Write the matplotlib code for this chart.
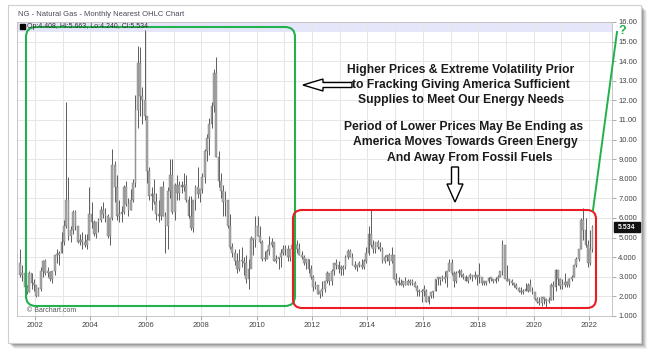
import matplotlib.pyplot as plt
import numpy as np
import pandas as pd
from matplotlib.patches import FancyBboxPatch, Rectangle, Polygon

plt.rcParams['font.family'] = ['Liberation Sans', 'DejaVu Sans']

# NG nearest futures, monthly bars Jun 2001 .. Feb 2022
highs = [
    4.4, 3.6, 3.4, 2.6, 3.3, 3.2, 2.9,                                   # 2001
    2.6, 2.5, 3.5, 3.85, 3.9, 3.5, 3.3, 3.3, 4.1, 4.4, 4.3, 5.3,         # 2002
    5.9, 11.9, 8.1, 5.6, 6.4, 6.4, 5.6, 5.2, 5.3, 5.2, 5.2, 7.6,         # 2003
    6.8, 5.9, 5.8, 6.0, 6.6, 6.8, 6.5, 6.2, 6.0, 9.5, 8.9, 8.2,          # 2004
    6.9, 6.6, 7.7, 7.9, 7.0, 7.5, 8.0, 12.3, 14.8, 14.7, 12.7, 15.6,     # 2005
    11.0, 8.6, 7.6, 8.0, 7.3, 6.9, 7.6, 7.9, 6.3, 7.6, 9.0, 9.0,         # 2006
    7.8, 8.2, 7.9, 7.9, 8.3, 8.2, 7.1, 7.1, 6.9, 7.7, 8.6, 7.5,          # 2007
    8.3, 9.5, 10.3, 11.1, 11.9, 13.6, 14.2, 9.4, 8.3, 7.7, 7.4, 6.9,     # 2008
    6.2, 4.7, 4.4, 4.2, 4.4, 4.5, 4.0, 4.1, 3.9, 5.1, 5.0, 6.1,          # 2009
    6.1, 5.6, 4.9, 4.3, 4.4, 5.1, 5.0, 4.8, 4.1, 4.0, 4.4, 4.6,          # 2010
    4.6, 4.6, 4.4, 4.8, 4.8, 4.9, 4.7, 4.3, 4.1, 3.9, 3.9, 3.6,          # 2011
    3.1, 2.8, 2.5, 2.3, 2.8, 2.8, 3.3, 3.2, 3.4, 3.7, 3.9, 3.8,          # 2012
    3.6, 3.6, 4.1, 4.4, 4.4, 4.2, 3.8, 3.6, 3.8, 3.9, 3.9, 4.5,          # 2013
    5.6, 6.4, 4.9, 4.8, 4.9, 4.8, 4.5, 4.1, 4.1, 4.2, 4.5, 4.1,          # 2014
    3.2, 3.0, 2.9, 2.8, 3.0, 2.9, 2.9, 2.9, 2.8, 2.6, 2.4, 2.4,          # 2015
    2.6, 2.4, 2.0, 2.2, 2.3, 2.9, 3.0, 2.9, 3.1, 3.3, 3.3, 3.9,          # 2016
    3.9, 3.3, 3.3, 3.4, 3.4, 3.2, 3.1, 3.0, 3.2, 3.1, 3.3, 3.1,          # 2017
    3.7, 3.0, 2.8, 2.8, 3.0, 3.0, 2.9, 3.0, 3.1, 3.3, 4.9, 4.6,          # 2018
    3.6, 2.9, 2.9, 2.7, 2.7, 2.5, 2.5, 2.4, 2.7, 2.7, 2.9, 2.5,          # 2019
    2.2, 1.95, 1.95, 1.95, 1.95, 1.9, 1.95, 2.7, 2.8, 3.4, 3.35, 2.95,   # 2020
    2.9, 3.2, 2.8, 2.95, 3.1, 3.6, 4.0, 4.4, 6.0, 6.5, 6.0, 4.9,         # 2021
    5.4, 5.663,                                                          # 2022
]
lows = [
    3.0, 2.8, 2.4, 2.1, 2.2, 2.4, 2.3,
    1.97, 2.0, 2.3, 3.0, 3.1, 3.0, 2.8, 2.7, 3.1, 3.7, 3.6, 4.2,
    4.6, 5.5, 4.9, 4.8, 5.2, 5.4, 4.7, 4.6, 4.4, 4.5, 4.4, 4.9,
    5.5, 5.1, 5.0, 5.3, 5.8, 6.0, 5.8, 5.0, 4.6, 5.9, 6.8, 5.9,
    5.8, 5.8, 6.2, 6.6, 6.1, 6.4, 6.8, 7.6, 10.6, 11.2, 10.8, 11.0,
    7.8, 6.9, 6.4, 6.7, 5.9, 5.8, 5.9, 6.1, 4.2, 4.4, 7.0, 6.2,
    5.9, 6.9, 6.9, 7.3, 7.4, 6.8, 6.0, 5.4, 5.3, 6.4, 7.0, 6.8,
    7.3, 7.8, 8.9, 9.2, 10.6, 11.4, 9.1, 7.6, 7.0, 6.1, 6.1, 5.5,
    4.4, 4.0, 3.6, 3.2, 3.3, 3.5, 3.1, 2.7, 2.4, 3.5, 4.1, 4.5,
    5.1, 4.7, 3.8, 3.8, 3.9, 4.1, 4.5, 3.8, 3.7, 3.4, 3.5, 4.1,
    4.1, 3.8, 3.8, 4.2, 4.0, 4.2, 4.1, 3.9, 3.6, 3.4, 3.2, 2.9,
    2.3, 2.4, 2.1, 1.9, 2.0, 2.2, 2.7, 2.6, 2.6, 3.1, 3.4, 3.2,
    3.1, 3.1, 3.4, 3.9, 4.0, 3.6, 3.4, 3.3, 3.5, 3.4, 3.4, 3.7,
    4.1, 4.5, 4.2, 4.2, 4.4, 4.3, 3.7, 3.7, 3.8, 3.6, 3.7, 2.9,
    2.6, 2.6, 2.6, 2.5, 2.6, 2.6, 2.6, 2.6, 2.5, 2.0, 2.0, 1.7,
    2.0, 1.7, 1.6, 1.9, 1.9, 2.3, 2.6, 2.6, 2.8, 2.7, 2.5, 3.3,
    3.1, 2.5, 2.7, 3.0, 3.0, 2.9, 2.8, 2.7, 2.9, 2.8, 2.9, 2.6,
    2.7, 2.6, 2.6, 2.6, 2.7, 2.8, 2.7, 2.7, 2.8, 3.0, 3.1, 3.0,
    2.8, 2.6, 2.6, 2.5, 2.4, 2.2, 2.1, 2.1, 2.3, 2.2, 2.3, 2.1,
    1.8, 1.65, 1.55, 1.5, 1.6, 1.45, 1.65, 1.8, 1.8, 2.3, 2.6, 2.4,
    2.4, 2.5, 2.5, 2.5, 2.8, 3.0, 3.5, 3.8, 4.4, 4.9, 4.5, 3.5,
    3.6, 4.24,
]
closes = [
    3.1, 3.2, 2.5, 2.2, 3.2, 2.7, 2.6,
    2.0, 2.4, 3.3, 3.8, 3.2, 3.25, 2.9, 3.3, 4.1, 4.1, 4.2, 4.8,
    5.6, 6.9, 5.1, 5.4, 6.3, 5.6, 4.8, 4.8, 4.8, 4.6, 4.9, 6.2,
    5.8, 5.2, 5.8, 5.9, 6.4, 6.2, 6.1, 5.1, 6.0, 8.7, 7.6, 6.1,
    6.2, 6.3, 7.6, 6.7, 6.4, 6.9, 7.8, 11.5, 13.9, 12.2, 12.0, 11.2,
    8.4, 7.1, 7.2, 6.8, 6.2, 6.1, 7.6, 6.1, 5.6, 7.4, 8.2, 6.3,
    7.7, 7.3, 7.7, 7.6, 7.7, 6.9, 6.1, 5.5, 6.9, 7.6, 7.2, 7.5,
    8.1, 9.4, 10.1, 10.8, 11.7, 13.4, 9.1, 7.9, 7.4, 6.8, 6.9, 5.6,
    4.5, 4.2, 3.8, 3.4, 3.8, 3.8, 3.7, 2.9, 3.4, 5.0, 4.9, 5.6,
    5.1, 4.8, 3.9, 3.9, 4.3, 4.6, 4.8, 3.8, 3.9, 4.0, 4.2, 4.4,
    4.4, 4.0, 4.4, 4.6, 4.6, 4.4, 4.1, 4.0, 3.7, 3.9, 3.4, 3.0,
    2.5, 2.6, 2.1, 2.3, 2.4, 2.8, 3.2, 2.8, 3.3, 3.7, 3.6, 3.4,
    3.4, 3.5, 4.0, 4.3, 4.0, 3.6, 3.5, 3.6, 3.6, 3.5, 3.8, 4.2,
    5.2, 4.6, 4.4, 4.8, 4.5, 4.4, 3.8, 4.0, 4.1, 3.8, 4.1, 2.9,
    2.7, 2.7, 2.6, 2.8, 2.6, 2.8, 2.7, 2.7, 2.5, 2.3, 2.2, 2.3,
    2.3, 1.7, 2.0, 2.2, 2.3, 2.9, 2.9, 2.9, 2.9, 3.0, 3.3, 3.7,
    3.2, 2.8, 3.2, 3.3, 3.1, 3.0, 2.8, 3.0, 3.0, 3.0, 3.0, 3.0,
    3.0, 2.7, 2.7, 2.8, 2.95, 2.9, 2.8, 2.9, 3.0, 3.3, 4.6, 2.9,
    2.8, 2.8, 2.7, 2.6, 2.45, 2.3, 2.2, 2.3, 2.3, 2.6, 2.3, 2.2,
    1.85, 1.7, 1.65, 1.95, 1.85, 1.75, 1.8, 2.6, 2.5, 3.35, 2.9, 2.55,
    2.6, 2.75, 2.6, 2.9, 3.0, 3.6, 3.9, 4.4, 5.9, 5.4, 4.6, 3.7,
    4.41, 5.534,
]
first_open = 3.7
start_month = '2001-06-01'

year_ticks = list(range(2002, 2023, 2))
price_ticks = list(range(1, 17))
price_labels = ['1.000', '2.000', '3.000', '4.000', '5.000', '6.000', '7.000', '8.000',
                '9.000', '10.00', '11.00', '12.00', '13.00', '14.00', '15.00', '16.00']
last_price = 5.534

chart_title = 'NG - Natural Gas - Monthly Nearest OHLC Chart'
legend_text = 'Op:4.408, Hi:5.663, Lo:4.240, Cl:5.534'
note_top = ['Higher Prices & Extreme Volatility Prior',
            'to Fracking Giving America Sufficient',
            'Supplies to Meet Our Energy Needs']
note_bottom = ['Period of Lower Prices May Be Ending as',
               'America Moves Towards Green Energy',
               'And Away From Fossil Fuels']

GREEN = '#22b14c'
RED = '#ed1c24'
W, H = 650, 355

fig = plt.figure(figsize=(W / 100, H / 100), dpi=100)

# screenshot card + drop shadow
bg = fig.add_axes([0, 0, 1, 1], zorder=0)
bg.set_xlim(0, W)
bg.set_ylim(H, 0)
bg.axis('off')
for off, a in [(6, 0.05), (5, 0.07), (4, 0.09), (3, 0.11), (2, 0.13)]:
    bg.add_patch(Rectangle((8 + off, 5 + off), 633, 338, color='black', alpha=a, lw=0))
bg.add_patch(Rectangle((8, 5), 633, 338, facecolor='white', edgecolor='#cfcfcf', lw=0.8))

# price chart
ax = fig.add_axes([17 / W, (H - 316) / H, 595 / W, 294 / H], zorder=1)
dates = pd.date_range(start_month, periods=len(closes), freq='MS')
x = dates.year + (dates.month - 0.5) / 12
o = np.r_[first_open, closes[:-1]]
c = np.array(closes)
ax.axhspan(15.49, 16, color='#e6e6fa', zorder=0, lw=0)
ax.vlines(x, lows, highs, color='#5c5c5c', lw=0.7, zorder=2)
ax.bar(x, np.maximum(np.abs(c - o), 0.08), bottom=np.minimum(o, c), width=0.065,
       color='#a9a9a9', edgecolor='#7a7a7a', lw=0.3, zorder=3)

ax.set_xlim(2001.35, 2022.83)
ax.set_ylim(1, 16)
ax.yaxis.tick_right()
ax.set_yticks(price_ticks, price_labels)
ax.set_xticks(year_ticks, [str(y) for y in year_ticks])
ax.set_xticks(range(2002, 2023), minor=True)
ax.tick_params(axis='both', which='major', labelsize=5.5, labelcolor='#444444',
               color='#888888', length=3, width=0.5, pad=1.5)
ax.tick_params(axis='x', which='minor', length=0)
ax.grid(True, which='both', axis='x', color='#e6e6e6', lw=0.7)
ax.grid(True, which='major', axis='y', color='#e6e6e6', lw=0.7)
ax.set_axisbelow(True)
for s in ax.spines.values():
    s.set_color('#bdbdbd')
    s.set_linewidth(0.6)

# annotations drawn in pixel space
ov = fig.add_axes([0, 0, 1, 1], zorder=3)
ov.set_xlim(0, W)
ov.set_ylim(H, 0)
ov.axis('off')
ov.patch.set_alpha(0)

ov.text(18, 14, chart_title, fontsize=5.5, color='#4a4a5a', va='center')
ov.add_patch(Rectangle((19.5, 23.5), 5, 5, color='black'))
ov.text(27, 26.5, legend_text, fontsize=5, color='#333333', va='center')
ov.text(27, 311, '\u00a9 Barchart.com', fontsize=5, color='#555555', va='center')

ov.add_patch(FancyBboxPatch((26, 27), 269, 279, boxstyle='round,pad=0,rounding_size=10',
                            facecolor='none', edgecolor=GREEN, lw=1.5))
ov.add_patch(FancyBboxPatch((293, 210), 303, 98, boxstyle='round,pad=0,rounding_size=9',
                            facecolor='none', edgecolor=RED, lw=1.5))
ov.plot([593, 617], [210, 32], color=GREEN, lw=1.4)
ov.text(622, 31, '?', color=GREEN, fontsize=9, fontweight='bold', ha='center', va='center')

for i, line in enumerate(note_top):
    ov.text(461, 70.5 + i * 14.8, line, fontsize=8.7, fontweight='bold',
            ha='center', va='center', color='#1a1a1a')
for i, (line, cx) in enumerate(zip(note_bottom, [464, 465, 470])):
    ov.text(cx, 127 + i * 15.5, line, fontsize=8.7, fontweight='bold',
            ha='center', va='center', color='#1a1a1a')

ov.add_patch(Polygon([(303, 85), (323, 79), (323, 82.5), (352, 82.5), (352, 87.5),
                      (323, 87.5), (323, 91)], closed=True, facecolor='white',
                     edgecolor='black', lw=1))
ov.add_patch(Polygon([(451.5, 167), (458.5, 167), (458.5, 184), (463, 184), (455, 202),
                      (447, 184), (451.5, 184)], closed=True, facecolor='white',
                     edgecolor='black', lw=1))

# last price tag on the right axis
tag_y = H - ax.transData.transform((0, last_price))[1]
ov.add_patch(Rectangle((614, tag_y - 5), 26, 10, color='#111111'))
ov.text(627, tag_y, '%.3f' % last_price, color='white', fontsize=5, fontweight='bold',
        ha='center', va='center')

fig.savefig('out.png', dpi=100)
